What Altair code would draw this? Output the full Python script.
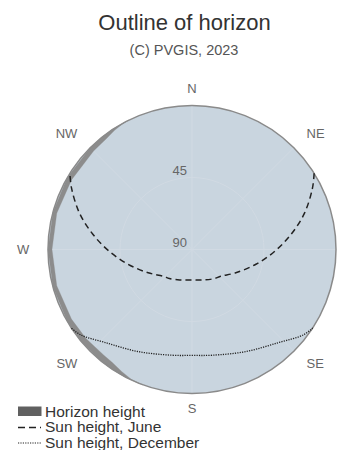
import math
import altair as alt
import pandas as pd

TITLE = "Outline of horizon"
SUBTITLE = "(C) PVGIS, 2023"

# horizon profile: azimuth (deg from N, clockwise) and horizon elevation (deg)
HZ_AZ = [200, 205, 210, 215, 220, 230, 240, 255, 270, 285, 300, 315, 322, 327, 331, 334]
HZ_EL = [0, 0.4, 2, 3.5, 4, 3.5, 3, 2.5, 2.5, 2.5, 3, 3, 2.5, 1.2, 0.3, 0]

# sun path, June
JUNE_AZ = [58, 63, 72, 81, 91, 103, 118, 133, 142, 158, 180,
           202, 218, 227, 242, 257, 269, 279, 288, 297, 302]
JUNE_EL = [0, 5.5, 16, 27, 38, 49, 59, 65.5, 67, 69.5, 71,
           69.5, 67, 65.5, 59, 49, 38, 27, 16, 5.5, 0]

# sun path, December
DEC_AZ = [123, 127.5, 137, 152, 169, 180, 191, 208, 223, 232.5, 237]
DEC_EL = [0, 2.3, 10.5, 17.8, 22.7, 23.8, 22.7, 17.8, 10.5, 2.3, 0]

DIRS = ["N", "NE", "E", "SE", "S", "SW", "W", "NW"]
DIR_AZ = [0, 45, 90, 135, 180, 225, 270, 315]
GRID_AZ = [0, 45, 90, 135, 180, 225, 270, 315]
RING_ZD = [45]
TICK_EL = [45, 90]
LEGEND = ["Horizon height", "Sun height, June", "Sun height, December"]

FONT = "Liberation Sans"
BG = "#c9d5df"
GRID = "#d1dae3"
HZC = "#8c8c8c"
EDGE = "#8a8a8a"

W, H = 338, 442
CX, CY, PX = 184.0, 241.5, 1.6
XS = alt.Scale(domain=[-CX / PX, (W - CX) / PX], nice=False, zero=False)
YS = alt.Scale(domain=[-(H - CY) / PX, CY / PX], nice=False, zero=False)
RS = alt.Scale(type="linear", domain=[0, 90], range=[0, 90 * PX], zero=True)

PXE = "(90 - datum.el) * sin(datum.az * PI / 180)"
PYE = "(90 - datum.el) * cos(datum.az * PI / 180)"

X = alt.X("px:Q", scale=XS, axis=None)
Y = alt.Y("py:Q", scale=YS, axis=None)


def polar(df):
    return alt.Chart(df).transform_calculate(px=PXE, py=PYE)


centre = pd.DataFrame({"az": [0], "el": [90], "zd": [90]})

disk = polar(centre).mark_arc(theta=0, theta2=2 * math.pi, fill=BG, strokeWidth=0).encode(
    x=X, y=Y, radius=alt.Radius("zd:Q", scale=RS))

ring = polar(pd.DataFrame({"az": [0] * len(RING_ZD), "el": [90] * len(RING_ZD), "zd": RING_ZD})).mark_arc(
    theta=0, theta2=2 * math.pi, fill="transparent", stroke=GRID, strokeWidth=1).encode(
    x=X, y=Y, radius=alt.Radius("zd:Q", scale=RS))

spokes = alt.Chart(pd.DataFrame({"az": GRID_AZ})).transform_calculate(
    px="0", py="0",
    qx="90 * sin(datum.az * PI / 180)", qy="90 * cos(datum.az * PI / 180)",
).mark_rule(color=GRID, strokeWidth=1).encode(x=X, y=Y, x2="qx:Q", y2="qy:Q")

n = len(HZ_AZ)
poly = pd.DataFrame({
    "az": HZ_AZ + HZ_AZ[::-1],
    "el": [0] * n + HZ_EL[::-1],
    "o": list(range(2 * n)),
})
horizon = polar(poly).mark_line(fill=HZC, stroke=HZC, strokeWidth=0.3).encode(
    x=X, y=Y, order="o:Q")

edge = polar(centre).mark_arc(theta=0, theta2=2 * math.pi, fill="transparent",
                              stroke=EDGE, strokeWidth=1.5).encode(
    x=X, y=Y, radius=alt.Radius("zd:Q", scale=RS))

june_df = pd.DataFrame({"az": JUNE_AZ, "el": JUNE_EL, "o": list(range(len(JUNE_AZ)))})
june = polar(june_df).mark_line(color="#222222", strokeWidth=1.5, strokeDash=[6, 4],
                                interpolate="catmull-rom").encode(x=X, y=Y, order="o:Q")

dec_df = pd.DataFrame({"az": DEC_AZ, "el": DEC_EL, "o": list(range(len(DEC_AZ)))})
dec = polar(dec_df).mark_line(color="#222222", strokeWidth=1.3, strokeDash=[1.2, 1.2],
                              interpolate="catmull-rom").encode(x=X, y=Y, order="o:Q")

layers = [disk, ring, spokes, horizon, edge, june, dec]

# compass labels
LABEL_ZD = 96  # distance of label anchor from zenith, in degrees of the scale
for name, az in zip(DIRS, DIR_AZ):
    s = math.sin(math.radians(az))
    c = math.cos(math.radians(az))
    align = "center" if abs(s) < 0.1 else ("left" if s > 0 else "right")
    base = "middle" if abs(c) < 0.1 else ("bottom" if c > 0 else "top")
    if align == "center":
        dx = 0
    elif base == "middle":
        dx = 9 if s > 0 else -9
    else:
        dx = 6 if s > 0 else -6
    layers.append(
        alt.Chart(pd.DataFrame({"az": [az], "t": [name]})).transform_calculate(
            px=f"{LABEL_ZD} * sin(datum.az * PI / 180)",
            py=f"{LABEL_ZD} * cos(datum.az * PI / 180)",
        ).mark_text(align=align, baseline=base, dx=dx, font=FONT, fontSize=13, color="#666666").encode(
            x=X, y=Y, text="t:N")
    )

ticks = polar(pd.DataFrame({"az": [0] * len(TICK_EL), "el": TICK_EL,
                            "t": [str(v) for v in TICK_EL]})).mark_text(
    align="right", baseline="bottom", dx=-5, dy=0, font=FONT, fontSize=13, color="#666666").encode(
    x=X, y=Y, text="t:N")
layers.append(ticks)

one = alt.Chart(pd.DataFrame({"k": [0]}))
layers.append(one.mark_text(font=FONT, fontSize=22, color="#333333", align="center", baseline="middle").encode(
    x=alt.value(176.5), y=alt.value(15), text=alt.value(TITLE)))
layers.append(one.mark_text(font=FONT, fontSize=14.5, color="#555555", align="center", baseline="middle").encode(
    x=alt.value(176), y=alt.value(43), text=alt.value(SUBTITLE)))

# legend
layers.append(one.mark_rect(color="#606060").encode(
    x=alt.value(10), x2=alt.value(33.5), y=alt.value(398.5), y2=alt.value(408)))
layers.append(one.mark_rule(color="#222222", strokeWidth=1.5, strokeDash=[7, 4]).encode(
    x=alt.value(10), x2=alt.value(33), y=alt.value(419.5)))
layers.append(one.mark_rule(color="#222222", strokeWidth=1.2, strokeDash=[1.2, 1.2]).encode(
    x=alt.value(10), x2=alt.value(33), y=alt.value(435)))
for i, lab in enumerate(LEGEND):
    layers.append(one.mark_text(font=FONT, fontSize=15.5, color="#333333", align="left", baseline="middle").encode(
        x=alt.value(37), y=alt.value(403.7 + 15.5 * i), text=alt.value(lab)))

chart = alt.layer(*layers).properties(
    width=W, height=H, autosize=alt.AutoSizeParams(type="none"), padding=0
).configure_view(stroke=None)

chart.save("out.html", embed_options={"renderer": "svg", "actions": False})
